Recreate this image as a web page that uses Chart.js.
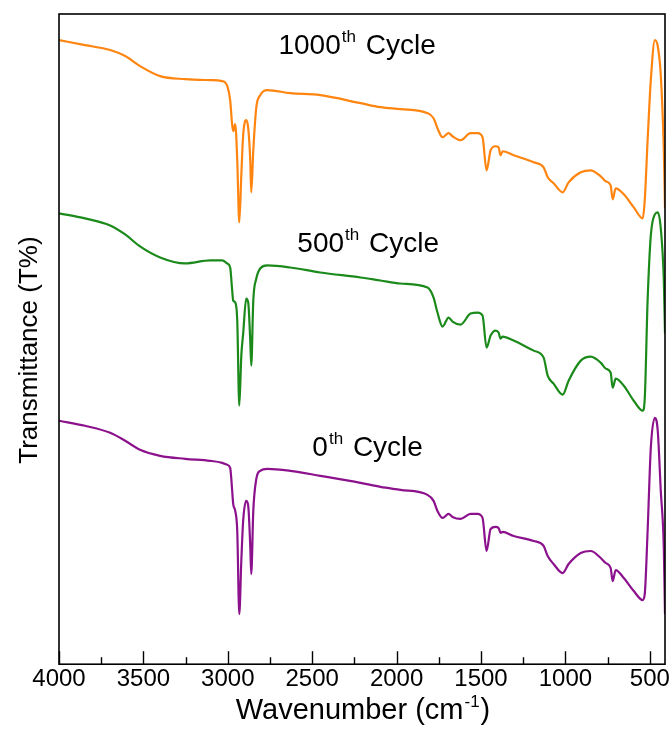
<!DOCTYPE html>
<html lang="en">
<head>
<meta charset="UTF-8">
<title>FTIR spectra</title>
<script src="https://cdn.jsdelivr.net/npm/chart.js"></script>
<style>
  html, body { margin: 0; padding: 0; background: #fff; }
  #wrap { width: 672px; height: 734px; }
</style>
</head>
<body>
<div id="wrap"><canvas id="ftir"></canvas></div>
<script>
// wavenumbers (cm-1)
const wavenumbers = [4000, 3846, 3697, 3608, 3520, 3401, 3253, 3104, 3033, 3003,
  2986, 2974, 2968, 2956, 2944, 2932, 2920, 2909, 2891, 2879,
  2867, 2861, 2849, 2831, 2808, 2766, 2630, 2452, 2214, 2096,
  1977, 1817, 1781, 1758, 1728, 1692, 1669, 1621, 1562, 1520,
  1491, 1467, 1443, 1414, 1396, 1384, 1372, 1307, 1188, 1129,
  1105, 1070, 1016, 981, 909, 850, 791, 761, 732, 720,
  702, 654, 595, 542, 530, 513, 494, 470, 453, 435, 417, 410];

// transmittance (offset, arbitrary units) for each cycle
const cycle1000 = [62.3, 61.8, 61.3, 60.7, 59.7, 58.7, 58.4, 58.3, 58.2, 57.7,
  56.3, 53.8, 53.2, 53.9, 50.3, 44.1, 48.8, 52.8, 54.3, 53.5,
  50.3, 47.1, 51.3, 55.6, 56.8, 57.3, 57.0, 56.8, 56.0, 55.6,
  55.4, 55.0, 54.5, 53.5, 52.6, 53.0, 52.7, 52.3, 53.0, 53.0,
  52.6, 49.3, 51.3, 51.7, 51.6, 50.8, 51.2, 50.8, 50.1, 49.6,
  48.6, 48.0, 47.1, 48.1, 49.1, 49.3, 48.7, 48.2, 47.8, 46.4,
  47.5, 46.9, 45.6, 44.5, 46.3, 52.3, 58.3, 62.3, 61.7, 58.8, 51.3, 45.5];

const cycle500 = [45.0, 44.5, 43.8, 42.9, 41.7, 40.6, 40.0, 40.3, 40.3, 40.0,
  39.6, 37.3, 36.3, 36.1, 34.3, 25.8, 30.8, 33.0, 36.5, 36.1,
  32.3, 29.8, 36.3, 38.5, 39.5, 39.8, 39.6, 39.1, 38.6, 38.3,
  38.0, 37.6, 36.6, 35.1, 33.7, 34.6, 34.2, 33.9, 35.0, 35.1,
  34.8, 31.6, 32.8, 33.3, 33.1, 32.5, 32.7, 32.3, 31.3, 30.6,
  28.8, 28.0, 26.9, 28.3, 30.3, 30.7, 30.1, 29.5, 29.1, 27.6,
  28.5, 27.8, 26.3, 25.3, 26.5, 36.3, 42.8, 44.9, 45.1, 43.5, 38.3, 33.0];

const cycle0 = [24.3, 23.8, 23.1, 22.3, 21.4, 20.8, 20.5, 20.3, 20.1, 19.9,
  19.6, 17.3, 16.0, 15.3, 13.3, 5.0, 10.3, 14.3, 16.3, 15.8,
  11.8, 9.0, 15.3, 18.5, 19.3, 19.5, 19.3, 18.8, 18.1, 17.7,
  17.4, 16.9, 16.3, 15.3, 14.6, 15.0, 14.7, 14.5, 15.0, 15.0,
  14.6, 11.3, 13.5, 13.7, 13.6, 13.1, 13.2, 12.8, 12.3, 11.8,
  10.8, 10.0, 9.1, 10.0, 11.1, 11.3, 10.6, 10.1, 9.6, 8.3,
  9.4, 8.6, 7.3, 6.4, 7.0, 13.3, 21.6, 24.6, 23.3, 17.3, 11.6, 5.0];

const majorTicks = [4000, 3500, 3000, 2500, 2000, 1500, 1000, 500];
const minorTicks = [3750, 3250, 2750, 2250, 1750, 1250, 750];

// curve labels: [number, superscript, rest, anchor wavenumber, anchor value]
const curveLabels = [
  ['1000', 'th', ' Cycle', 2700, 60.9],
  ['500', 'th', ' Cycle', 2588, 41.1],
  ['0', 'th', ' Cycle', 2499, 20.8]
];

const FONT = '"Liberation Sans", Arial, sans-serif';

const toPoints = vals => wavenumbers.map((w, i) => ({ x: w, y: vals[i] }));

// frame, inward ticks, titles and labels
const decorPlugin = {
  id: 'decor',
  afterDraw(chart) {
    const { ctx, chartArea: a, scales: { x, y } } = chart;
    ctx.save();
    ctx.strokeStyle = '#000';
    ctx.lineWidth = 1.6;
    ctx.strokeRect(a.left, a.top, a.right - a.left, a.bottom - a.top);

    ctx.lineWidth = 1.4;
    const tick = (v, len) => {
      const px = Math.round(x.getPixelForValue(v)) + 0.5;
      ctx.beginPath();
      ctx.moveTo(px, a.bottom);
      ctx.lineTo(px, a.bottom - len);
      ctx.stroke();
    };
    majorTicks.forEach(v => tick(v, 13));
    minorTicks.forEach(v => tick(v, 7));

    ctx.fillStyle = '#000';
    ctx.textBaseline = 'alphabetic';

    // x title with superscript
    const big = '29px ' + FONT, small = '17px ' + FONT;
    ctx.font = big;
    const t1 = 'Wavenumber (cm', t3 = ')';
    ctx.font = small;
    const supW = ctx.measureText('-1').width;
    ctx.font = big;
    const w1 = ctx.measureText(t1).width, w3 = ctx.measureText(t3).width;
    let sx = (a.left + a.right) / 2 - (w1 + supW + w3) / 2;
    const by = 719;
    ctx.textAlign = 'left';
    ctx.fillText(t1, sx, by);
    ctx.font = small;
    ctx.fillText('-1', sx + w1 + 1, by - 12);
    ctx.font = big;
    ctx.fillText(t3, sx + w1 + supW + 2, by);

    // y title
    ctx.save();
    ctx.translate(37, (a.top + a.bottom) / 2 + 11);
    ctx.rotate(-Math.PI / 2);
    ctx.font = '26px ' + FONT;
    ctx.textAlign = 'center';
    ctx.fillText('Transmittance (T%)', 0, 0);
    ctx.restore();

    // curve labels
    curveLabels.forEach(([num, sup, rest, wx, wy]) => {
      const lx = x.getPixelForValue(wx), ly = y.getPixelForValue(wy);
      ctx.font = '28px ' + FONT;
      ctx.fillText(num, lx, ly);
      const nw = ctx.measureText(num).width;
      ctx.font = '17px ' + FONT;
      ctx.fillText(sup, lx + nw + 1, ly - 12);
      const sw = ctx.measureText(sup).width;
      ctx.font = '28px ' + FONT;
      ctx.fillText(rest, lx + nw + sw + 3, ly);
    });
    ctx.restore();
  }
};

const series = [
  { label: '1000th Cycle', data: cycle1000, color: '#ff8510' },
  { label: '500th Cycle', data: cycle500, color: '#1b8a1b' },
  { label: '0th Cycle', data: cycle0, color: '#8c118c' }
];

new Chart(document.getElementById('ftir'), {
  type: 'line',
  data: {
    datasets: series.map(s => ({
      label: s.label,
      data: toPoints(s.data),
      borderColor: s.color,
      borderWidth: 2.2,
      pointRadius: 0,
      fill: false,
      cubicInterpolationMode: 'monotone'
    }))
  },
  options: {
    responsive: true,
    maintainAspectRatio: false,
    animation: false,
    layout: { padding: { left: 59, right: 7, top: 14, bottom: 39 } },
    scales: {
      x: {
        type: 'linear',
        reverse: true,
        min: 410,
        max: 4000,
        afterBuildTicks: scale => { scale.ticks = majorTicks.map(v => ({ value: v })); },
        grid: { display: false, drawTicks: false },
        border: { display: false },
        ticks: {
          color: '#000',
          padding: 1,
          font: { family: FONT, size: 24 },
          maxRotation: 0,
          autoSkip: false,
          callback: v => String(v)
        }
      },
      y: {
        display: false,
        min: 0,
        max: 64.9
      }
    },
    plugins: {
      legend: { display: false },
      tooltip: { enabled: false }
    }
  },
  plugins: [decorPlugin]
});
</script>
</body>
</html>
